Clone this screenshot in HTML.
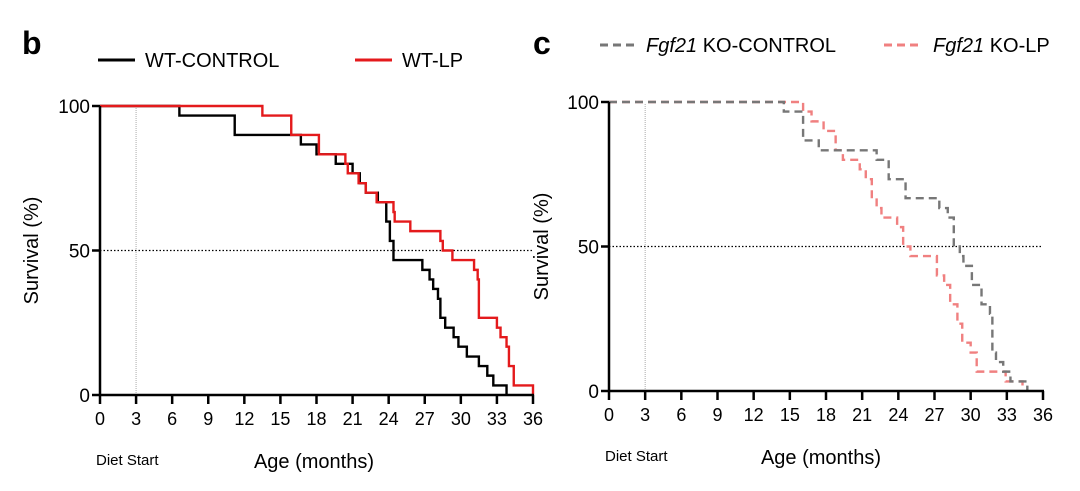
<!DOCTYPE html>
<html><head><meta charset="utf-8"><style>
html,body{margin:0;padding:0;background:#fff;width:1080px;height:491px;overflow:hidden}
svg{font-family:"Liberation Sans",Arial,sans-serif}
</style></head><body>
<svg id="s" width="1080" height="491" viewBox="0 0 1080 491">
<text x="22" y="54" font-size="32" font-weight="bold">b</text>
<text x="533" y="54" font-size="32" font-weight="bold">c</text>
<g>
<line x1="98" y1="60" x2="135" y2="60" stroke="#000" stroke-width="3"/>
<text x="145" y="67" font-size="20">WT-CONTROL</text>
<line x1="355" y1="60" x2="392" y2="60" stroke="#e41a1c" stroke-width="3"/>
<text x="402" y="67" font-size="20">WT-LP</text>
</g>
<g>
<line x1="600" y1="45" x2="636" y2="45" stroke="#777" stroke-width="3" stroke-dasharray="8,5"/>
<text x="646" y="52" font-size="20"><tspan font-style="italic">Fgf21</tspan> KO-CONTROL</text>
<line x1="884" y1="45" x2="922" y2="45" stroke="#f08080" stroke-width="3" stroke-dasharray="8,5"/>
<text x="933" y="52" font-size="20"><tspan font-style="italic">Fgf21</tspan> KO-LP</text>
</g>
</svg>
<script>
// Panel b data: [month, survival %]
const wtControl=[[0,100],[6.6,96.7],[11.2,90],[16.7,86.7],[18,83.3],[19.6,80],[21,76.7],[21.6,73.3],[22.1,70],[23.1,66.7],[23.8,60],[24.1,53.3],[24.4,46.7],[26.8,43.3],[27.4,40],[27.7,36.7],[28.1,33.3],[28.3,26.7],[28.7,23.3],[29.4,20],[29.8,16.7],[30.5,13.3],[31.5,10],[32.2,6.7],[32.7,3.3],[33.8,0]];
const wtLP=[[0,100],[13.5,96.7],[15.9,90],[18.2,83.3],[20.4,80],[20.6,76.7],[21.5,73.3],[22.1,70],[23,66.7],[24.4,63.3],[24.5,60],[25.8,56.7],[28.3,53.3],[28.5,50],[29.3,46.7],[31.1,43.3],[31.4,40],[31.5,26.7],[33,23.3],[33.3,20],[33.8,16.7],[34,10],[34.4,3.3],[36,0]];
// Panel c data
const koControl=[[0,100],[14.5,96.7],[16.1,86.7],[17.4,83.3],[22.2,80],[23.2,73.3],[24.6,66.7],[27.4,63.3],[28.1,60],[28.6,50],[29.1,46.7],[29.4,43.3],[30.1,36.7],[30.9,30],[31.6,26.7],[31.8,13.3],[32.1,10],[32.7,6.7],[33.3,3.3],[34.7,0]];
const koLP=[[0,100],[16.1,96.7],[16.8,93.3],[17.8,90],[18.8,83.3],[19.4,80],[20.8,76.7],[21.3,73.3],[21.8,66.7],[22.2,63.3],[22.6,60],[23.9,56.7],[24.4,50],[25,46.7],[27.2,40],[27.8,36.7],[28.3,30],[28.9,23.3],[29.3,16.7],[30,13.3],[30.5,6.7],[32.9,3.3],[34.3,0]];
const xTicks=[0,3,6,9,12,15,18,21,24,27,30,33,36];
const yTicks=[0,50,100];
const svg=document.getElementById('s');
const NS='http://www.w3.org/2000/svg';
function mk(tag,attrs,parent){const e=document.createElementNS(NS,tag);for(const k in attrs)e.setAttribute(k,attrs[k]);(parent||svg).appendChild(e);return e;}
function panel(P,series,id){
  const g=mk('g',{});
  
  
  const X=m=>P.x0+(P.x1-P.x0)*m/36, Y=v=>P.y0+(P.y1-P.y0)*v/100;
  let l=mk('line',{x1:X(3),x2:X(3),y1:Y(100)+2,y2:Y(0),stroke:'#aaa','stroke-width':1,'stroke-dasharray':'1,1'},g);
  
  
  l=mk('line',{x1:X(0),x2:X(36),y1:Y(50),y2:Y(50),stroke:'#000','stroke-width':1.2,'stroke-dasharray':'1.5,2'},g);
  
  
  series.forEach(s=>{
    let d='M'+X(s.d[0][0])+','+Y(s.d[0][1]);
    for(let i=1;i<s.d.length;i++){d+='H'+X(s.d[i][0])+'V'+Y(s.d[i][1]);}
    const p=mk('path',{d:d,fill:'none',stroke:s.c,'stroke-width':2.4,'stroke-dasharray':s.dash||'none'},g);
    
    
  });
  l=mk('line',{x1:X(0),x2:X(0),y1:Y(100),y2:Y(0)+1,stroke:'#000','stroke-width':2.5},g);
  
  
  l=mk('line',{x1:X(0)-1,x2:X(36)+1,y1:Y(0),y2:Y(0),stroke:'#000','stroke-width':2.5},g);
  
  
  yTicks.forEach(v=>{
    const t=mk('line',{x1:X(0)-8,x2:X(0),y1:Y(v),y2:Y(v),stroke:'#000','stroke-width':2.5},g);
    
    
    const tx=mk('text',{x:X(0)-10,y:Y(v)+7,'font-size':19,'text-anchor':'end'},g);
    tx.textContent=v;
    
    
  });
  xTicks.forEach(v=>{
    const t=mk('line',{x1:X(v),x2:X(v),y1:Y(0),y2:Y(0)+9,stroke:'#000','stroke-width':2.5},g);
    
    
    const tx=mk('text',{x:X(v),y:Y(0)+30,'font-size':18,'text-anchor':'middle'},g);
    tx.textContent=v;
    
    
  });
  let t=mk('text',{x:0,y:0,'font-size':20,'text-anchor':'middle',transform:'translate('+P.yl+','+Y(50)+') rotate(-90)'},g);
  t.textContent='Survival (%)';
  
  
  t=mk('text',{x:X(0)-4,y:Y(0)+70,'font-size':15},g);
  t.textContent='Diet Start';
  
  
  t=mk('text',{x:P.ax,y:Y(0)+73,'font-size':20,'text-anchor':'middle'},g);
  t.textContent='Age (months)';
  
  
}
panel({x0:100,x1:533,y0:395,y1:106,yl:38,ax:314},[{d:wtControl,c:'#000',n:'series-wt-control'},{d:wtLP,c:'#e41a1c',n:'series-wt-lp'}],'panel-b');
panel({x0:609,x1:1043,y0:391,y1:102,yl:548,ax:821},[{d:koLP,c:'#f08080',dash:'8,5',n:'series-ko-lp'},{d:koControl,c:'#777',dash:'8,5',n:'series-ko-control'}],'panel-c');
</script>
</body></html>
